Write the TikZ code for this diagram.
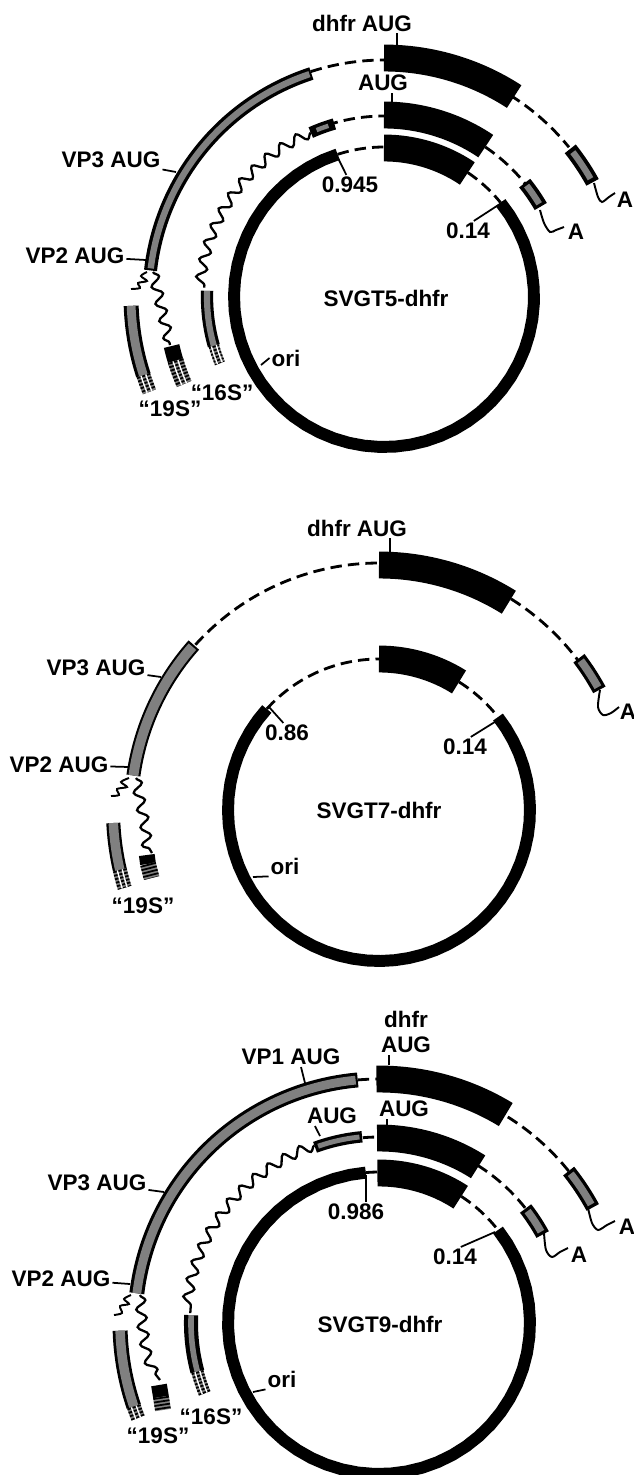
\documentclass[tikz,border=0pt]{standalone}
\usepackage{xcolor}
\usepackage{fontspec}
\setmainfont{Liberation Sans}
\usetikzlibrary{decorations.pathmorphing}
\definecolor{stipple}{gray}{0.5}
\newcommand{\arcat}[4][]{\draw[#1] plot[domain=#3:#4, samples=50] ({\cx+(#2)*cos(\x)},{\cy-(#2)*sin(\x)});}
% stippled, frayed end of a bar
\newcommand{\frayed}[4]{%
  \arcat[barin=#4]{#1}{#2}{#3}
  \arcat[fade=#4]{#1}{#2}{#3}
  \arcat[line width=0.8pt, white]{#1-2.5}{#2}{#3}
  \arcat[line width=0.8pt, white]{#1+2.5}{#2}{#3}}
\tikzset{
  lab/.style={font=\fontsize{12.8}{14.5}\selectfont\bfseries, inner sep=1pt},
  ring/.style={line width=6.8pt},
  block/.style={line width=15.3pt},
  dashline/.style={line width=1.6pt, dash pattern=on 6.5pt off 3.5pt},
  leader/.style={line width=1pt},
  wavy/.style={line width=1.3pt, decorate, decoration={snake, amplitude=2.8pt, segment length=10pt}},
  tail/.style={line width=1.1pt},
  barout/.style={line width=#1pt},
  barin/.style={line width=#1pt, stipple},
  fade/.style={line width=#1pt, dash pattern=on 1pt off 1pt}
}
\begin{document}
\begin{tikzpicture}[x=0.02cm, y=-0.02cm]
  \useasboundingbox (0,0) rectangle (634,1475);

  % SVGT5-dhfr
  \def\cx{384}\def\cy{297}
  \arcat[ring]{150}{108}{399}
  \arcat[dashline]{150}{108}{90}
  \arcat[dashline]{150}{56}{39}
  \arcat[block]{149}{90}{56}
  \arcat[dashline]{181}{114}{90}
  \arcat[dashline]{181}{56}{30}
  \arcat[block]{182}{90}{56}
  \arcat[barout=8]{181}{39}{30}
  \arcat[barin=3.6]{181}{38}{31}
  \arcat[barout=6.5]{180}{114}{106}
  \arcat[barin=2.5]{180}{112}{108}
  \arcat[wavy]{180}{114}{177}
  \arcat[barout=7]{177}{178}{196}
  \arcat[barin=3.5]{177}{178}{196}
  \frayed{177}{196}{202}{6}
  \arcat[dashline]{237}{108}{90}
  \arcat[dashline]{238}{58}{39}
  \arcat[block]{239}{90}{57}
  \arcat[barout=8]{238}{38.5}{28.8}
  \arcat[barin=3.6]{238}{37.5}{29.8}
  \arcat[barout=7.4]{235}{108}{173.5}
  \arcat[barin=3.6]{235}{108.5}{173}
  % spliced ends
  \draw[tail] plot[smooth] coordinates {(147,272) (141,276) (147,281) (138,283) (140,288) (131,289)};
  \draw[wavy] plot coordinates {(153,272) (158,293) (164,320) (170,345)};
  \arcat[barout=8.5]{253}{182}{198}
  \arcat[barin=5]{253}{182}{198}
  \frayed{253}{198}{202}{8}
  \arcat[line width=9pt]{218}{193}{197}
  \arcat[barout=9]{218}{197}{198}
  \frayed{218}{197}{203.5}{9}
  \draw[tail] plot[smooth] coordinates {(594,183) (598,197) (602,202) (609,197) (615,193)};
  \draw[tail] plot[smooth] coordinates {(540,210) (544,223) (550,232) (556,230) (564,227)};
  \node[lab] (dhfrA) at (362,23) {dhfr AUG};
  \node[lab] (augA) at (383,83) {AUG};
  \node[lab] (vpthreeA) at (111,160) {VP3 AUG};
  \node[lab] (vptwoA) at (75,256) {VP2 AUG};
  \node[lab] (startA) at (350,185) {0.945};
  \node[lab] (endA) at (468,231) {0.14};
  \node[lab] (oriA) at (286,358) {ori};
  \node[lab] (nameA) at (386,298) {SVGT5-dhfr};
  \node[lab] (ninetA) at (170,409) {“19S”};
  \node[lab] (sixtA) at (222,393) {“16S”};
  \node[lab] (polyAa) at (625,200) {A};
  \node[lab] (polyAb) at (576,232) {A};
  \coordinate (dhfrAt) at (397,45);
  \coordinate (augAt) at (392,102);
  \coordinate (vpthreeAt) at (176,172);
  \coordinate (vptwoAt) at (146,260);
  \coordinate (startAt) at (337,156);
  \coordinate (endAt) at (503,202);
  \coordinate (oriAt) at (261,365);
  \draw[leader] (dhfrA.south -| dhfrAt) -- (dhfrAt);
  \draw[leader] (augA.south -| augAt) -- (augAt);
  \draw[leader] (vpthreeA) -- (vpthreeAt);
  \draw[leader] (vptwoA) -- (vptwoAt);
  \draw[leader] (startA.110) -- (startAt);
  \draw[leader] (endA.60) -- (endAt);
  \draw[leader] (oriA.west) -- (oriAt);

  % SVGT7-dhfr
  \def\cx{379}\def\cy{810}
  \arcat[ring]{151}{138}{398}
  \arcat[dashline]{151}{138}{90}
  \arcat[dashline]{151}{58}{38}
  \arcat[block]{151}{90}{58}
  \arcat[dashline]{247}{138}{90}
  \arcat[dashline]{249}{58}{37}
  \arcat[block]{245}{90}{58}
  \arcat[barout=8]{251}{37.2}{28.6}
  \arcat[barin=4.4]{251}{36.5}{29.3}
  \arcat[barout=8]{248}{138.3}{172}
  \arcat[barin=5.6]{248}{138.8}{172}
  % spliced ends
  \draw[tail] plot[smooth] coordinates {(129,778) (121,782) (127,787) (117,789) (119,795) (111,796)};
  \draw[wavy] plot coordinates {(136,778) (140,800) (144,820) (146,843) (152,853)};
  \arcat[barout=8]{266}{182.8}{193}
  \arcat[barin=5.4]{266}{182.8}{193}
  \frayed{266}{193}{197}{8}
  \draw[line width=9pt] (146.8,855) -- (148,864);
  \draw[stipple, line width=9pt] (148,864) -- (151.6,878);
  \draw[fade=9] (148,864) -- (151.6,878);
  \draw[tail] plot[smooth] coordinates {(600,690) (598,707) (603,715) (611,713) (619,707)};
  \node[lab] (dhfrB) at (357,528) {dhfr AUG};
  \node[lab] (vpthreeB) at (96,668) {VP3 AUG};
  \node[lab] (vptwoB) at (59,765) {VP2 AUG};
  \node[lab] (startB) at (287,733) {0.86};
  \node[lab] (endB) at (465,747) {0.14};
  \node[lab] (oriB) at (285,866) {ori};
  \node[lab] (nameB) at (379,810) {SVGT7-dhfr};
  \node[lab] (ninetB) at (143,906) {“19S”};
  \node[lab] (polyBa) at (628,712) {A};
  \coordinate (dhfrBt) at (390,553);
  \coordinate (vpthreeBt) at (161,677);
  \coordinate (vptwoBt) at (129,767);
  \coordinate (startBt) at (269,707);
  \coordinate (endBt) at (498,720);
  \coordinate (oriBt) at (253,877);
  \draw[leader] (dhfrB.south -| dhfrBt) -- (dhfrBt);
  \draw[leader] (vpthreeB) -- (vpthreeBt);
  \draw[leader] (vptwoB) -- (vptwoBt);
  \draw[leader] (startB.110) -- (startBt);
  \draw[leader] (endB.60) -- (endBt);
  \draw[leader] (oriB.south west) -- (oriBt);

  % SVGT9-dhfr
  \def\cx{379}\def\cy{1323}
  \arcat[ring]{151}{95}{398}
  \arcat[dashline]{151}{95}{90}
  \arcat[dashline]{151}{57}{38}
  \arcat[block]{150}{90.6}{57}
  \arcat[dashline]{186}{95}{90}
  \arcat[dashline]{186}{58}{30}
  \arcat[block]{185}{90.6}{57.6}
  \arcat[barout=8]{186}{38}{28.4}
  \arcat[barin=4.2]{186}{37}{29.4}
  \arcat[barout=6.5]{187}{95.2}{110}
  \arcat[barin=2.8]{187}{96}{109}
  \arcat[wavy]{189}{110}{177}
  \arcat[barout=8]{188}{177.6}{195}
  \arcat[barin=3.2]{188}{177.6}{195}
  \frayed{188}{195}{202}{7}
  \arcat[dashline]{244}{95}{90}
  \arcat[dashline]{243}{58}{38}
  \arcat[block]{244}{90.6}{58.7}
  \arcat[barout=8]{243}{38.7}{28.4}
  \arcat[barin=4.2]{243}{37.9}{29.2}
  \arcat[barout=8.5]{244}{95}{173}
  \arcat[barin=5]{244}{95.5}{173}
  % spliced ends
  \draw[tail] plot[smooth] coordinates {(131,1295) (124,1299) (129,1304) (120,1306) (122,1313) (114,1315)};
  \draw[wavy] plot coordinates {(140,1295) (142,1320) (146,1347) (154,1370) (160,1380)};
  \arcat[barout=8.5]{259}{181.7}{198.8}
  \arcat[barin=5.4]{259}{181.7}{198.8}
  \frayed{259}{198.8}{201.5}{8}
  \draw[line width=9pt] (159,1385) -- (161,1397);
  \draw[stipple, line width=9pt] (161,1397) -- (163,1410);
  \draw[fade=9] (161,1397) -- (163,1410);
  \draw[tail] plot[smooth] coordinates {(588,1208) (592,1223) (598,1230) (607,1225) (615,1221)};
  \draw[tail] plot[smooth] coordinates {(544,1233) (546,1250) (552,1257) (560,1252) (568,1248)};
  \node[lab, align=center] (dhfrC) at (406,1032) {dhfr\\AUG};
  \node[lab] (vponeC) at (291,1057) {VP1 AUG};
  \node[lab] (auglC) at (332,1116) {AUG};
  \node[lab] (augrC) at (404,1109) {AUG};
  \node[lab] (vpthreeC) at (97,1183) {VP3 AUG};
  \node[lab] (vptwoC) at (61,1279) {VP2 AUG};
  \node[lab] (startC) at (356,1212) {0.986};
  \node[lab] (endC) at (455,1257) {0.14};
  \node[lab] (oriC) at (282,1379) {ori};
  \node[lab] (nameC) at (380,1324) {SVGT9-dhfr};
  \node[lab] (ninetC) at (158,1436) {“19S”};
  \node[lab] (sixtC) at (211,1417) {“16S”};
  \node[lab] (polyCa) at (627,1227) {A};
  \node[lab] (polyCb) at (579,1255) {A};
  \coordinate (dhfrCt) at (389,1065);
  \coordinate (vponeCt) at (305,1083);
  \coordinate (auglCt) at (320,1136);
  \coordinate (augrCt) at (387,1126);
  \coordinate (vpthreeCt) at (164,1192);
  \coordinate (vptwoCt) at (130,1284);
  \coordinate (startCt) at (366,1175);
  \coordinate (endCt) at (495,1232);
  \coordinate (oriCt) at (253,1392);
  \draw[leader] (dhfrC.south -| dhfrCt) -- (dhfrCt);
  \draw[leader] (vponeC.south -| 301,0) -- (vponeCt);
  \draw[leader] (auglC.south -| 315,0) -- (auglCt);
  \draw[leader] (augrC.south -| augrCt) -- (augrCt);
  \draw[leader] (vpthreeC) -- (vpthreeCt);
  \draw[leader] (vptwoC) -- (vptwoCt);
  \draw[leader] (startC.north -| startCt) -- (startCt);
  \draw[leader] (endC.60) -- (endCt);
  \draw[leader] (oriC.south west) -- (oriCt);
\end{tikzpicture}
\end{document}
